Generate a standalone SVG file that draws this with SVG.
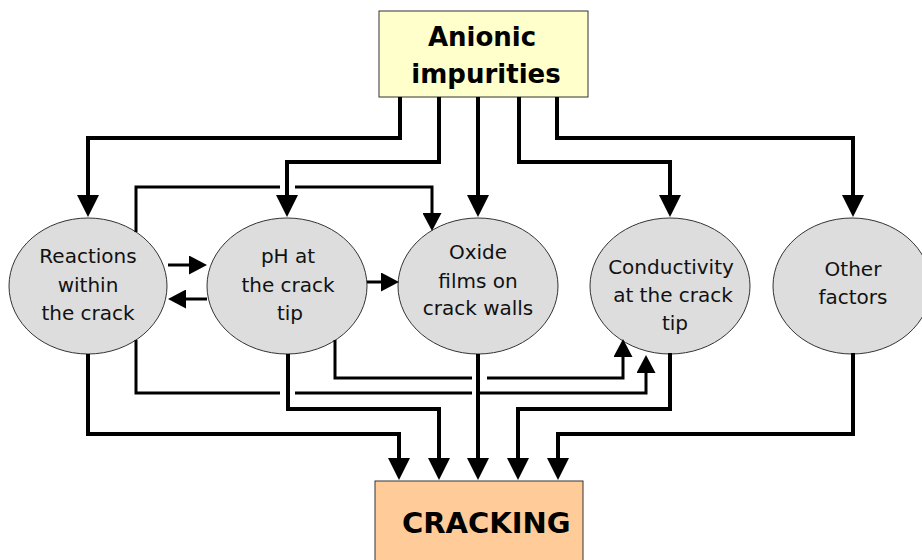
<svg xmlns="http://www.w3.org/2000/svg" width="922" height="560" viewBox="0 0 922 560">
<defs>
<style>
.ell{fill:#dddddd;stroke:#333;stroke-width:1}
.lbl{font-family:"DejaVu Sans","Liberation Sans",sans-serif;font-size:20px;fill:#111;text-anchor:middle}
.big{font-family:"DejaVu Sans","Liberation Sans",sans-serif;font-weight:bold;fill:#000}
.thick{fill:none;stroke:#000;stroke-width:4;marker-end:url(#ah)}
.thin{fill:none;stroke:#000;stroke-width:3;marker-end:url(#as)}
</style>
<marker id="ah" markerUnits="userSpaceOnUse" markerWidth="22" markerHeight="22" viewBox="0 0 22 22" refX="1" refY="11" orient="auto"><path d="M0,0 L22,11 L0,22 z" fill="#000"/></marker>
<marker id="as" markerUnits="userSpaceOnUse" markerWidth="18" markerHeight="19" viewBox="0 0 18 19" refX="1" refY="9.5" orient="auto"><path d="M0,0 L18,9.5 L0,19 z" fill="#000"/></marker>
</defs>
<rect width="922" height="560" fill="#fff"/>
<g id="anionic">
<rect x="379" y="11" width="209" height="86" fill="#ffffcc" stroke="#333" stroke-width="1"/>
<text class="big" x="482" y="46" font-size="26" text-anchor="middle">Anionic</text>
<text class="big" x="486" y="83" font-size="26" text-anchor="middle">impurities</text>
</g>
<g id="reactions">
<ellipse class="ell" cx="88" cy="286" rx="79" ry="68"/>
<text class="lbl" x="88" y="263">Reactions</text>
<text class="lbl" x="88" y="292">within</text>
<text class="lbl" x="88" y="320">the crack</text>
</g>
<g id="ph">
<ellipse class="ell" cx="287" cy="286" rx="80" ry="68"/>
<text class="lbl" x="288" y="263">pH at</text>
<text class="lbl" x="288" y="292">the crack</text>
<text class="lbl" x="290" y="320">tip</text>
</g>
<g id="oxide">
<ellipse class="ell" cx="478" cy="286" rx="80" ry="68"/>
<text class="lbl" x="478" y="259">Oxide</text>
<text class="lbl" x="478" y="288">films on</text>
<text class="lbl" x="478" y="315">crack walls</text>
</g>
<g id="conductivity">
<ellipse class="ell" cx="670" cy="286" rx="80" ry="68"/>
<text class="lbl" x="671" y="274">Conductivity</text>
<text class="lbl" x="673" y="302">at the crack</text>
<text class="lbl" x="675" y="330">tip</text>
</g>
<g id="other">
<ellipse class="ell" cx="852" cy="286" rx="79" ry="68"/>
<text class="lbl" x="853" y="276">Other</text>
<text class="lbl" x="853" y="304">factors</text>
</g>
<g id="cracking">
<rect x="375" y="481" width="208" height="90" fill="#ffcc99" stroke="#333" stroke-width="1"/>
<text class="big" x="402" y="533" font-size="29">CRACKING</text>
</g>
<g id="connectors">
<path class="thick" d="M400,97 V138 H88 V196"/>
<path class="thick" d="M439,97 V162 H287 V196"/>
<path class="thick" d="M478,97 V196"/>
<path class="thick" d="M519,97 V162 H670 V196"/>
<path class="thick" d="M557,97 V138 H853 V196"/>
<path class="thick" d="M88,354 V434 H399 V459"/>
<path class="thick" d="M288,354 V409 H439 V459"/>
<path class="thick" d="M478,354 V459"/>
<path class="thick" d="M670,353 V409 H518 V459"/>
<path class="thick" d="M853,353 V434 H558 V459"/>
<path class="thin" d="M168,265 H190"/>
<path class="thin" d="M207,299 H185"/>
<path class="thin" d="M367,282 H382"/>
<path class="thin" d="M136,232 V187 H280 M295,187 H432 V214"/>
<path class="thin" d="M136,340 V393 H280 M295,393 H472 M480,393 H646 V372"/>
<path class="thin" d="M335,340 V378 H472 M487,378 H623 V356"/>
</g>
</svg>
